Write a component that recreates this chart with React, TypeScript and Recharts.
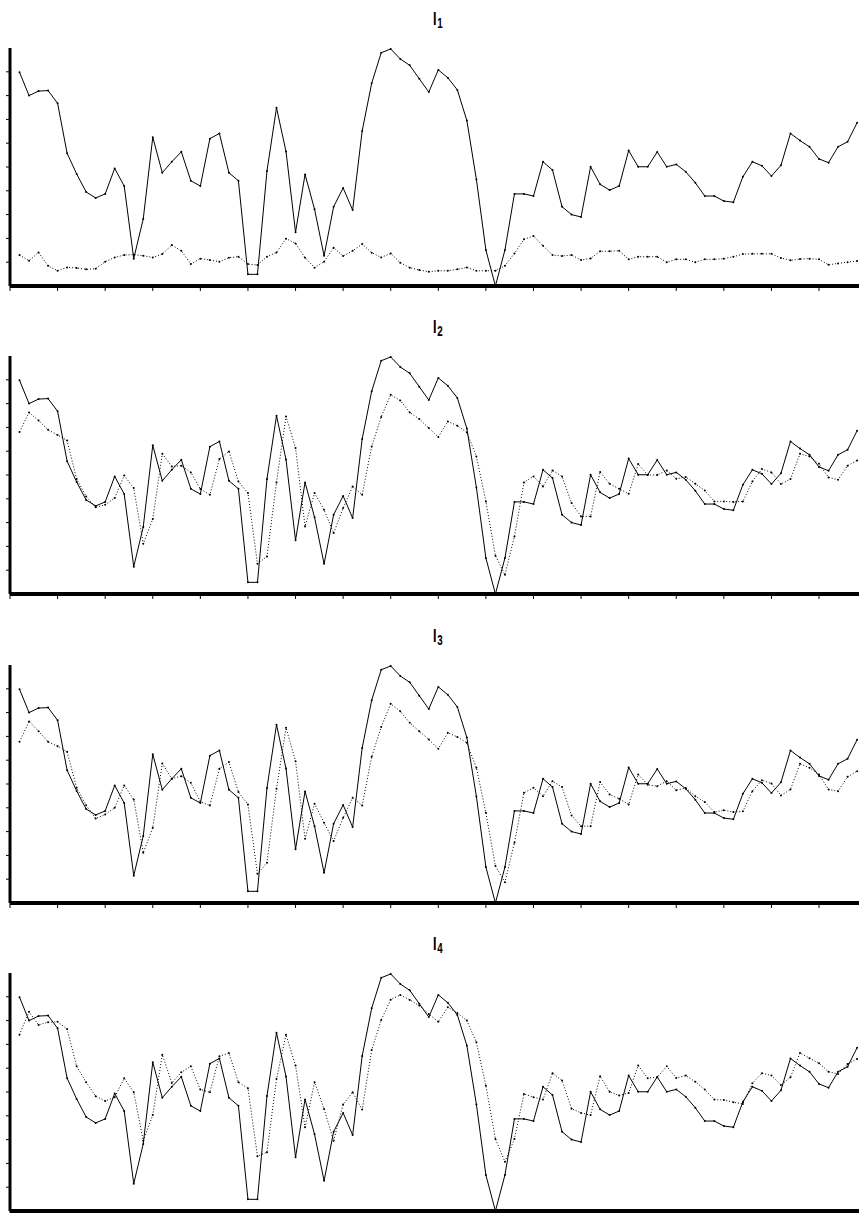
import { LineChart, Line, XAxis, YAxis } from "recharts";

// sample index 1..89 along the x axis
const steps = Array.from({ length: 89 }, (_, i) => i + 1);

const solidSeries = [
  89.8, 80.0, 81.9, 82.1, 76.8, 55.8, 47.1, 39.5, 37.0, 38.7,
  49.4, 42.0, 11.5, 28.2, 62.5, 47.6, 52.2, 56.4, 44.2, 42.0,
  61.9, 64.1, 47.6, 44.2, 4.9, 4.9, 48.3, 74.9, 56.5, 22.6,
  46.9, 32.2, 12.7, 33.3, 41.2, 31.9, 65.1, 85.2, 98.0, 99.6,
  95.4, 92.7, 87.1, 81.5, 90.8, 87.5, 82.4, 69.5, 44.8, 15.1,
  0, 15.1, 38.7, 38.7, 37.8, 52.2, 48.7, 33.3, 30.0, 29.0,
  50.1, 42.7, 40.3, 42.0, 56.9, 50.1, 50.1, 56.3, 50.1, 51.1,
  48.0, 43.4, 37.8, 37.8, 35.7, 35.2, 45.9, 52.2, 50.5, 46.2,
  50.7, 64.1, 61.1, 58.5, 53.4, 51.8, 58.5, 60.6, 68.6,
];

const dottedI1 = [
  13.0, 10.6, 14.1, 8.5, 6.4, 7.8, 7.6, 7.0, 7.3, 10.2,
  12.0, 13.0, 13.2, 12.7, 12.0, 13.4, 17.2, 14.8, 9.2, 11.5,
  10.9, 10.2, 11.9, 12.3, 9.2, 8.8, 12.3, 14.1, 19.9, 17.9,
  11.9, 7.7, 10.2, 16.1, 12.6, 14.8, 17.6, 14.0, 12.0, 13.7,
  9.8, 7.7, 6.7, 6.0, 6.4, 6.4, 7.0, 7.8, 6.4, 6.4,
  6.4, 8.5, 13.7, 19.6, 21.0, 16.9, 13.0, 12.6, 13.0, 10.9,
  11.6, 14.6, 14.6, 14.8, 11.2, 12.3, 12.3, 12.3, 10.0, 11.2,
  11.2, 10.0, 11.2, 11.2, 11.5, 12.3, 13.4, 13.5, 13.5, 13.5,
  11.8, 10.8, 11.3, 11.5, 11.2, 8.9, 9.5, 10.0, 10.5,
];

const dottedI2 = [
  68.1, 76.3, 72.9, 69.0, 66.8, 64.5, 48.3, 41.0, 36.4, 37.5,
  40.3, 49.8, 44.5, 21.1, 31.5, 58.9, 53.6, 53.9, 51.1, 44.1,
  41.7, 56.7, 59.9, 47.3, 42.4, 12.7, 15.8, 46.9, 74.6, 61.3,
  28.4, 42.4, 35.4, 25.6, 36.1, 45.2, 41.7, 62.0, 74.4, 83.7,
  81.3, 76.3, 73.5, 69.7, 66.0, 72.5, 70.7, 67.9, 57.8, 38.9,
  16.1, 8.1, 24.2, 46.9, 49.4, 45.2, 51.9, 49.4, 38.2, 32.6,
  32.6, 51.3, 46.3, 44.2, 42.1, 54.6, 50.0, 50.0, 51.9, 48.4,
  49.2, 46.3, 43.5, 38.9, 38.9, 38.7, 38.9, 47.3, 52.5, 51.1,
  46.2, 48.3, 58.9, 57.8, 54.7, 49.0, 48.0, 53.9, 56.1,
];

const dottedI3 = [
  67.7, 76.3, 72.2, 67.7, 65.9, 63.5, 48.4, 41.1, 35.5, 37.2,
  40.0, 49.4, 43.5, 21.1, 31.6, 58.6, 52.2, 53.3, 50.5, 42.5,
  41.0, 56.4, 59.2, 46.6, 41.4, 12.3, 16.9, 48.0, 73.6, 59.6,
  27.0, 41.7, 33.7, 26.0, 35.8, 44.2, 41.0, 61.4, 74.0, 83.7,
  80.6, 75.7, 72.2, 68.7, 64.8, 71.5, 69.8, 67.3, 56.8, 37.9,
  15.5, 8.7, 25.3, 46.3, 48.4, 44.9, 51.2, 48.7, 36.8, 32.3,
  32.3, 50.8, 45.6, 43.8, 41.4, 54.0, 49.7, 49.1, 51.2, 47.4,
  48.3, 44.9, 42.4, 38.2, 39.0, 38.2, 38.5, 47.0, 51.6, 50.2,
  45.2, 47.7, 58.5, 56.8, 54.0, 47.7, 47.0, 53.0, 55.4,
];

const dottedI4 = [
  74.1, 83.7, 78.2, 79.3, 79.5, 76.5, 60.8, 54.1, 48.2, 46.2,
  47.8, 55.8, 49.9, 29.5, 40.3, 65.7, 53.8, 58.3, 60.8, 51.0,
  49.9, 65.0, 66.4, 54.1, 51.6, 23.0, 24.7, 55.5, 74.1, 61.1,
  35.2, 54.1, 42.9, 29.5, 44.7, 49.9, 42.6, 67.6, 80.3, 88.8,
  90.8, 88.7, 86.3, 82.8, 79.5, 85.6, 83.2, 80.0, 70.9, 52.6,
  30.3, 20.7, 30.3, 49.2, 47.8, 46.8, 57.9, 54.8, 43.0, 41.2,
  40.3, 56.6, 50.1, 48.5, 49.6, 61.1, 55.8, 56.2, 60.8, 55.9,
  56.9, 54.3, 51.0, 46.8, 46.6, 45.7, 45.0, 53.7, 57.9, 56.9,
  52.9, 56.2, 66.4, 64.2, 62.1, 58.5, 57.6, 61.8, 63.9,
];

const panelLabels = ["1", "2", "3", "4"];
const dottedSeries = [dottedI1, dottedI2, dottedI3, dottedI4];

const xTicks = Array.from({ length: 18 }, (_, i) => i * 5);
const yTicks = [10, 20, 30, 40, 50, 60, 70, 80, 90];

const PANEL_TOPS = [0, 308, 617, 925];

function Panel({ label, dotted, top }: { label: string; dotted: number[]; top: number }) {
  const data = steps.map((t, i) => ({ t, solid: solidSeries[i], dotted: dotted[i] }));
  return (
    <div style={{ position: "absolute", left: 0, top, width: 859, height: 308 }}>
      {/* title drawn narrow, like a condensed face */}
      <div
        style={{
          position: "absolute",
          left: 433,
          top: 10,
          fontFamily: '"Liberation Sans", Arial, sans-serif',
          fontWeight: "bold",
          fontSize: 18,
          lineHeight: "18px",
          whiteSpace: "nowrap",
          transform: "scaleX(0.7)",
          transformOrigin: "left top",
        }}
      >
        I
        <span style={{ position: "relative", top: 3, fontSize: 14, marginLeft: 1 }}>{label}</span>
      </div>
      <LineChart width={859} height={308} data={data} margin={{ top: 48, right: 0, bottom: 0, left: 0 }}>
        <XAxis
          dataKey="t"
          type="number"
          domain={[0, 89.2]}
          ticks={xTicks}
          interval={0}
          height={22}
          tickSize={5}
          tickFormatter={() => ""}
          axisLine={{ stroke: "#000", strokeWidth: 4 }}
          tickLine={{ stroke: "#000", strokeWidth: 1 }}
        />
        <YAxis
          type="number"
          domain={[0, 100]}
          ticks={yTicks}
          interval={0}
          width={10}
          tickSize={4}
          tickFormatter={() => ""}
          axisLine={{ stroke: "#000", strokeWidth: 3 }}
          tickLine={{ stroke: "#000", strokeWidth: 1 }}
        />
        <Line
          type="linear"
          dataKey="solid"
          stroke="#000"
          strokeWidth={1}
          dot={{ r: 1, fill: "#000", stroke: "none" }}
          isAnimationActive={false}
        />
        <Line
          type="linear"
          dataKey="dotted"
          stroke="#000"
          strokeWidth={1}
          strokeDasharray="1 2"
          dot={{ r: 1, fill: "#000", stroke: "none" }}
          isAnimationActive={false}
        />
      </LineChart>
    </div>
  );
}

export default function App() {
  return (
    <div
      style={{
        position: "absolute",
        left: 0,
        top: 0,
        width: 859,
        height: 1213,
        overflow: "hidden",
        background: "#fff",
      }}
    >
      {panelLabels.map((label, k) => (
        <Panel key={label} label={label} dotted={dottedSeries[k]} top={PANEL_TOPS[k]} />
      ))}
    </div>
  );
}
